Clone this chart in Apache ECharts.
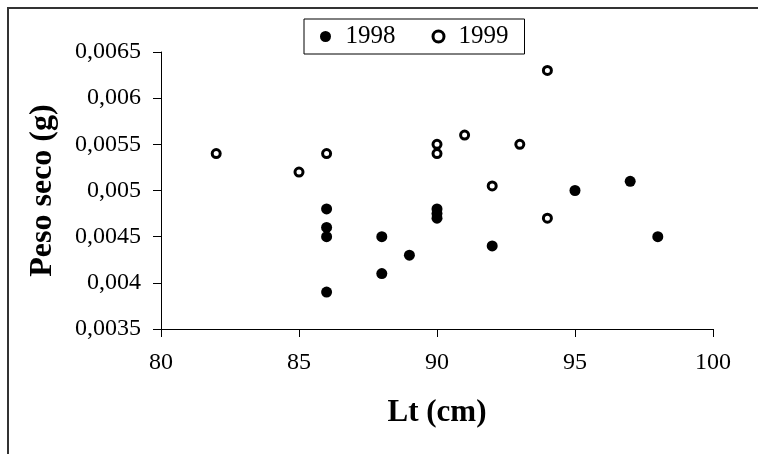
<!DOCTYPE html>
<html>
<head>
<meta charset="utf-8">
<script src="https://cdn.jsdelivr.net/npm/echarts@6/dist/echarts.min.js"></script>
<style>
html,body{margin:0;padding:0;background:#fff;}
#chart{width:758px;height:454px;}
</style>
</head>
<body>
<div id="chart"></div>
<script>
// Data
const seriesNames = ['1998', '1999'];
const lt1998 = [86, 86, 86, 86, 88, 88, 89, 90, 90, 90, 92, 95, 97, 98];
const peso1998 = [0.0048, 0.0046, 0.0045, 0.0039, 0.0045, 0.0041, 0.0043, 0.0048, 0.00475, 0.0047, 0.0044, 0.0050, 0.0051, 0.0045];
const lt1999 = [82, 85, 86, 90, 90, 91, 92, 93, 94, 94];
const peso1999 = [0.0054, 0.0052, 0.0054, 0.0055, 0.0054, 0.0056, 0.00505, 0.0055, 0.0063, 0.0047];
const xTitle = 'Lt (cm)';
const yTitle = 'Peso seco (g)';

const pairs = (xs, ys) => xs.map((x, i) => [x, ys[i]]);
const FONT = 'Liberation Serif';

const chart = echarts.init(document.getElementById('chart'), null, {renderer: 'canvas'});
chart.setOption({
  animation: false,
  backgroundColor: '#fff',
  graphic: [{
    type: 'rect',
    shape: {x: 8, y: 8, width: 800, height: 500},
    style: {fill: 'none', stroke: '#333', lineWidth: 2},
    silent: true
  }],
  grid: {left: 161, right: 45, top: 52, bottom: 125},
  legend: {
    left: 304, top: 19,
    padding: [5, 16, 5, 16],
    borderColor: '#000', borderWidth: 1,
    itemGap: 36, itemWidth: 12, itemHeight: 11,
    textStyle: {fontFamily: FONT, fontSize: 25, color: '#000', padding: [0, 0, 0, 9]},
    data: [
      {name: seriesNames[0], itemStyle: {color: '#000', opacity: 1}},
      {name: seriesNames[1], itemStyle: {color: '#fff', borderColor: '#000', borderWidth: 3, opacity: 1}}
    ]
  },
  xAxis: {
    type: 'value', min: 80, max: 100, interval: 5,
    name: xTitle, nameLocation: 'middle', nameGap: 68,
    nameTextStyle: {fontFamily: FONT, fontSize: 31, fontWeight: 'bold', color: '#000'},
    axisLine: {show: true, lineStyle: {color: '#000', width: 1}},
    axisTick: {show: true, length: 8, lineStyle: {color: '#000'}},
    axisLabel: {fontFamily: FONT, fontSize: 24, color: '#000', margin: 22},
    splitLine: {show: false}
  },
  yAxis: {
    type: 'value', min: 0.0035, max: 0.0065, interval: 0.0005,
    name: yTitle, nameLocation: 'middle', nameGap: 102,
    nameTextStyle: {fontFamily: FONT, fontSize: 32, fontWeight: 'bold', color: '#000'},
    axisLine: {show: true, lineStyle: {color: '#000', width: 1}},
    axisTick: {show: true, length: 8, lineStyle: {color: '#000'}},
    axisLabel: {
      fontFamily: FONT, fontSize: 24, color: '#000', margin: 20,
      formatter: v => String(+v.toFixed(5)).replace('.', ',')
    },
    splitLine: {show: false}
  },
  series: [
    {
      name: seriesNames[0], type: 'scatter', symbol: 'circle', symbolSize: 11,
      itemStyle: {color: '#000', opacity: 1},
      data: pairs(lt1998, peso1998)
    },
    {
      name: seriesNames[1], type: 'scatter', symbol: 'circle', symbolSize: 8,
      itemStyle: {color: '#fff', borderColor: '#000', borderWidth: 3, opacity: 1},
      data: pairs(lt1999, peso1999)
    }
  ]
});
</script>
</body>
</html>
